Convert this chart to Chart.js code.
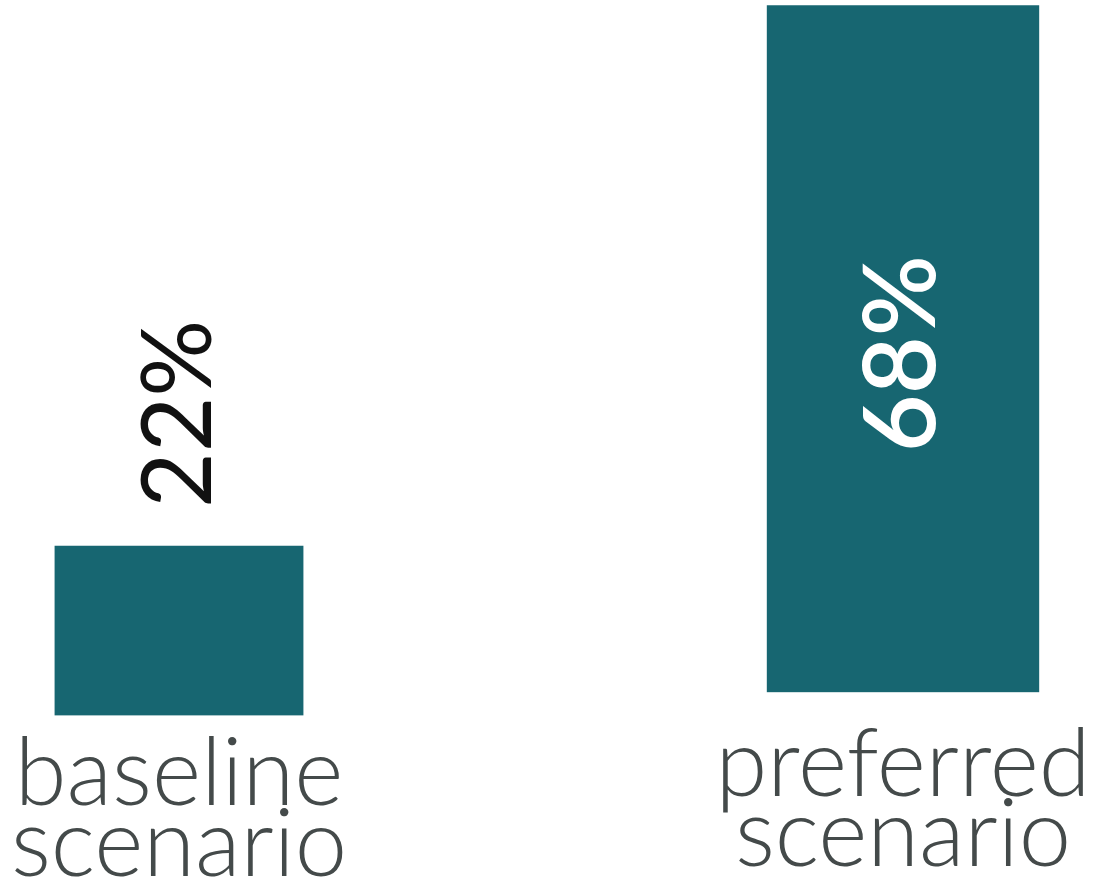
<!DOCTYPE html>
<html>
<head>
<meta charset="utf-8">
<title>Scenario comparison</title>
<script src="https://cdn.jsdelivr.net/npm/chart.js@4.4.1/dist/chart.umd.min.js"></script>
<style>
  html, body { margin: 0; padding: 0; background: #fff; }
  body { width: 1094px; height: 882px; position: relative; overflow: hidden; }
  .panel { position: absolute; top: 0; height: 882px; width: 400px; }
  #leftPanel { left: 0; }
  #rightPanel { left: 694px; }
</style>
</head>
<body>
<div class="panel" id="leftPanel"><canvas id="baselineChart"></canvas></div>
<div class="panel" id="rightPanel"><canvas id="preferredChart"></canvas></div>
<script>
const categories = [["baseline", "scenario"], ["preferred", "scenario"]];
const shares = [22, 68];
const shareLabels = ["22%", "68%"];
const scaleMax = 68;

const barColor = "#176671";
const labelColor = "#444a4a";

// writes the percentage sideways, either above the bar or inside it
const valueLabelPlugin = {
  id: "valueLabel",
  afterDatasetsDraw(chart, args, opts) {
    const bar = chart.getDatasetMeta(0).data[0];
    const { ctx } = chart;
    ctx.save();
    ctx.fillStyle = opts.color;
    ctx.font = opts.font;
    ctx.textBaseline = "middle";
    let x = bar.x + opts.dx;
    let y;
    if (opts.inside) {
      ctx.textAlign = "center";
      y = (bar.y + bar.base) / 2 + opts.dy;
    } else {
      ctx.textAlign = "left";
      y = bar.y - opts.gap;
    }
    ctx.translate(x, y);
    ctx.rotate(-Math.PI / 2);
    ctx.fillText(opts.text, 0, 0);
    ctx.restore();
  },
};

function makeChart(canvasId, idx, cfg) {
  return new Chart(document.getElementById(canvasId), {
    type: "bar",
    data: {
      labels: [categories[idx]],
      datasets: [
        {
          data: [shares[idx]],
          backgroundColor: barColor,
          borderWidth: 0,
          barPercentage: 1,
          categoryPercentage: 1,
        },
      ],
    },
    options: {
      responsive: true,
      maintainAspectRatio: false,
      animation: false,
      events: [],
      layout: { padding: cfg.padding },
      plugins: {
        legend: { display: false },
        tooltip: { enabled: false },
        valueLabel: cfg.valueLabel,
      },
      scales: {
        x: {
          grid: { display: false, drawTicks: false },
          border: { display: false },
          ticks: {
            color: labelColor,
            padding: cfg.tickPadding,
            maxRotation: 0,
            autoSkip: false,
            font: { family: "Lato", size: 94, weight: 300, lineHeight: 0.75 },
          },
          afterFit(axis) {
            // the wide labels may hang past the bar, don't shrink the plot for them
            axis.height = cfg.axisHeight;
            axis.paddingLeft = 0;
            axis.paddingRight = 0;
          },
        },
        y: {
          display: false,
          min: 0,
          max: scaleMax,
        },
      },
    },
    plugins: [valueLabelPlugin],
  });
}

makeChart("baselineChart", 0, {
  padding: { left: 54.5, right: 96.5, top: 191.6, bottom: 0 },
  axisHeight: 166.5,
  tickPadding: 24,
  valueLabel: {
    text: shareLabels[0],
    color: "#111",
    font: "400 96px Lato",
    inside: false,
    gap: 38,
    dx: 1,
  },
});

makeChart("preferredChart", 1, {
  padding: { left: 72.7, right: 54.7, top: 5.3, bottom: 0 },
  axisHeight: 189.7,
  tickPadding: 38,
  valueLabel: {
    text: shareLabels[1],
    color: "#ffffff",
    font: "600 100px Lato",
    inside: true,
    dx: 0,
    dy: 5,
  },
});
</script>
</body>
</html>
